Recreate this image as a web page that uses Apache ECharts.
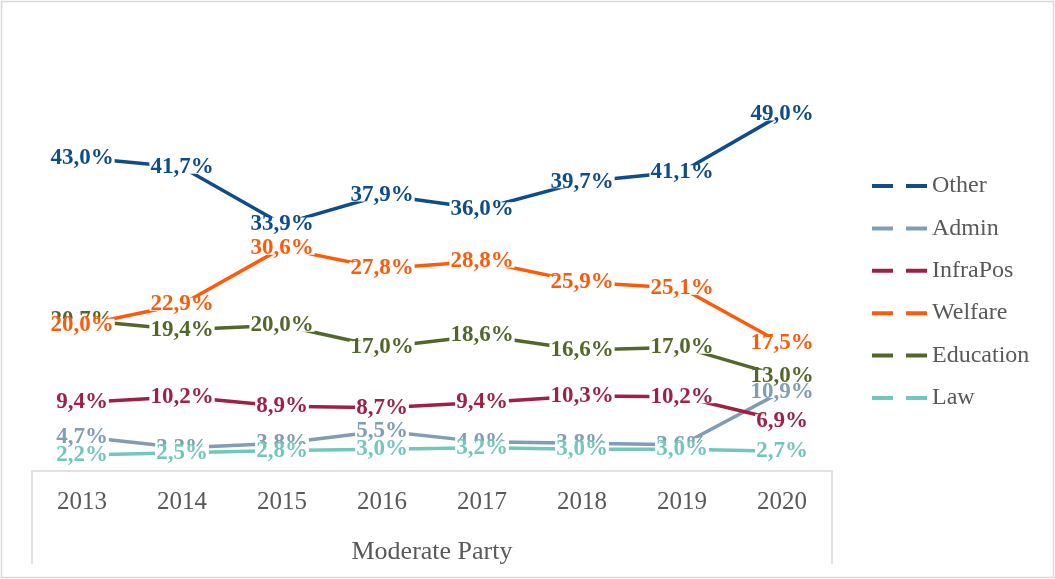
<!DOCTYPE html>
<html>
<head>
<meta charset="utf-8">
<title>Moderate Party</title>
<script src="https://cdn.jsdelivr.net/npm/echarts@6/dist/echarts.min.js"></script>
<style>
  html, body { margin: 0; padding: 0; background: #fff; }
  #chart { width: 1055px; height: 579px; }
</style>
</head>
<body>
<div id="chart"></div>
<script>
// Budget shares (%) by policy area, Moderate Party, 2013–2020
const years = ['2013', '2014', '2015', '2016', '2017', '2018', '2019', '2020'];
const other     = [43.0, 41.7, 33.9, 37.9, 36.0, 39.7, 41.1, 49.0];
const admin     = [4.7, 3.2, 3.8, 5.5, 4.0, 3.8, 3.6, 10.9];
const infraPos  = [9.4, 10.2, 8.9, 8.7, 9.4, 10.3, 10.2, 6.9];
const welfare   = [20.0, 22.9, 30.6, 27.8, 28.8, 25.9, 25.1, 17.5];
const education = [20.7, 19.4, 20.0, 17.0, 18.6, 16.6, 17.0, 13.0];
const law       = [2.2, 2.5, 2.8, 3.0, 3.2, 3.0, 3.0, 2.7];
const axisTitle = 'Moderate Party';

// Layout
const W = 1055, H = 579;
const GRID = { left: 32, right: 223, top: 34, bottom: 108 };
const BOX_BOTTOM = 564;
const FONT = '"Liberation Serif", "Times New Roman", serif';
const GREY_LINE = '#d9d9d9';
const TEXT = '#595959';

const seriesDefs = [
  { name: 'Other',     data: other,     color: '#0f4c8a', z: 2 },
  { name: 'Admin',     data: admin,     color: '#7f9db5', z: 3 },
  { name: 'InfraPos',  data: infraPos,  color: '#9e2145', z: 4 },
  { name: 'Welfare',   data: welfare,   color: '#ff5a0a', z: 6 },
  { name: 'Education', data: education, color: '#53672a', z: 5 },
  { name: 'Law',       data: law,       color: '#72c7bb', z: 7 }
];

const fmt = v => v.toFixed(1).replace('.', ',') + '%';

const chart = echarts.init(document.getElementById('chart'), null, { renderer: 'canvas' });

const axisX0 = GRID.left, axisX1 = W - GRID.right, axisY = H - GRID.bottom;

chart.setOption({
  animation: false,
  backgroundColor: '#fff',
  grid: { left: GRID.left, right: GRID.right, top: GRID.top, bottom: GRID.bottom, containLabel: false },
  legend: {
    orient: 'vertical',
    left: 867,
    top: 169,
    padding: 5,
    itemWidth: 55,
    itemHeight: 4,
    itemGap: 18.4,
    icon: 'path://M0,0H21V4H0Z M34,0H55V4H34Z',
    textStyle: { fontFamily: FONT, fontSize: 24, color: TEXT, lineHeight: 24 },
    data: ['Other', 'Admin', 'InfraPos', 'Welfare', 'Education', 'Law']
  },
  xAxis: {
    type: 'category',
    data: years,
    boundaryGap: true,
    axisLine: { show: true, lineStyle: { color: GREY_LINE, width: 1.5 } },
    axisTick: { show: false },
    axisLabel: { fontFamily: FONT, fontSize: 25, color: TEXT, margin: 19 },
    name: axisTitle,
    nameLocation: 'middle',
    nameGap: 68,
    nameTextStyle: { fontFamily: FONT, fontSize: 26, color: TEXT },
    splitLine: { show: false }
  },
  yAxis: {
    type: 'value',
    min: 0,
    max: 60,
    show: false,
    splitLine: { show: false }
  },
  series: seriesDefs.map(s => ({
    name: s.name,
    type: 'line',
    data: s.data,
    z: s.z,
    color: s.color,
    symbol: 'circle',
    symbolSize: 1,
    showSymbol: true,
    lineStyle: { color: s.color, width: 3.5 },
    itemStyle: { color: s.color },
    emphasis: { disabled: true },
    label: {
      show: true,
      position: 'inside',
      formatter: p => fmt(p.value),
      fontFamily: FONT,
      fontWeight: 'bold',
      fontSize: 23,
      lineHeight: 13,
      color: s.color,
      backgroundColor: '#fff',
      padding: [0, 1]
    }
  })),
  graphic: [
    // chart frame
    {
      type: 'rect', silent: true, z: -1,
      shape: { x: 1.5, y: 1.5, width: W - 3, height: H - 3 },
      style: { fill: null, stroke: GREY_LINE, lineWidth: 1.5 }
    },
    // sides of the category-axis box
    {
      type: 'line', silent: true, z: -1,
      shape: { x1: axisX0, y1: axisY, x2: axisX0, y2: BOX_BOTTOM },
      style: { stroke: GREY_LINE, lineWidth: 1.5 }
    },
    {
      type: 'line', silent: true, z: -1,
      shape: { x1: axisX1, y1: axisY, x2: axisX1, y2: BOX_BOTTOM },
      style: { stroke: GREY_LINE, lineWidth: 1.5 }
    }
  ]
});
</script>
</body>
</html>
